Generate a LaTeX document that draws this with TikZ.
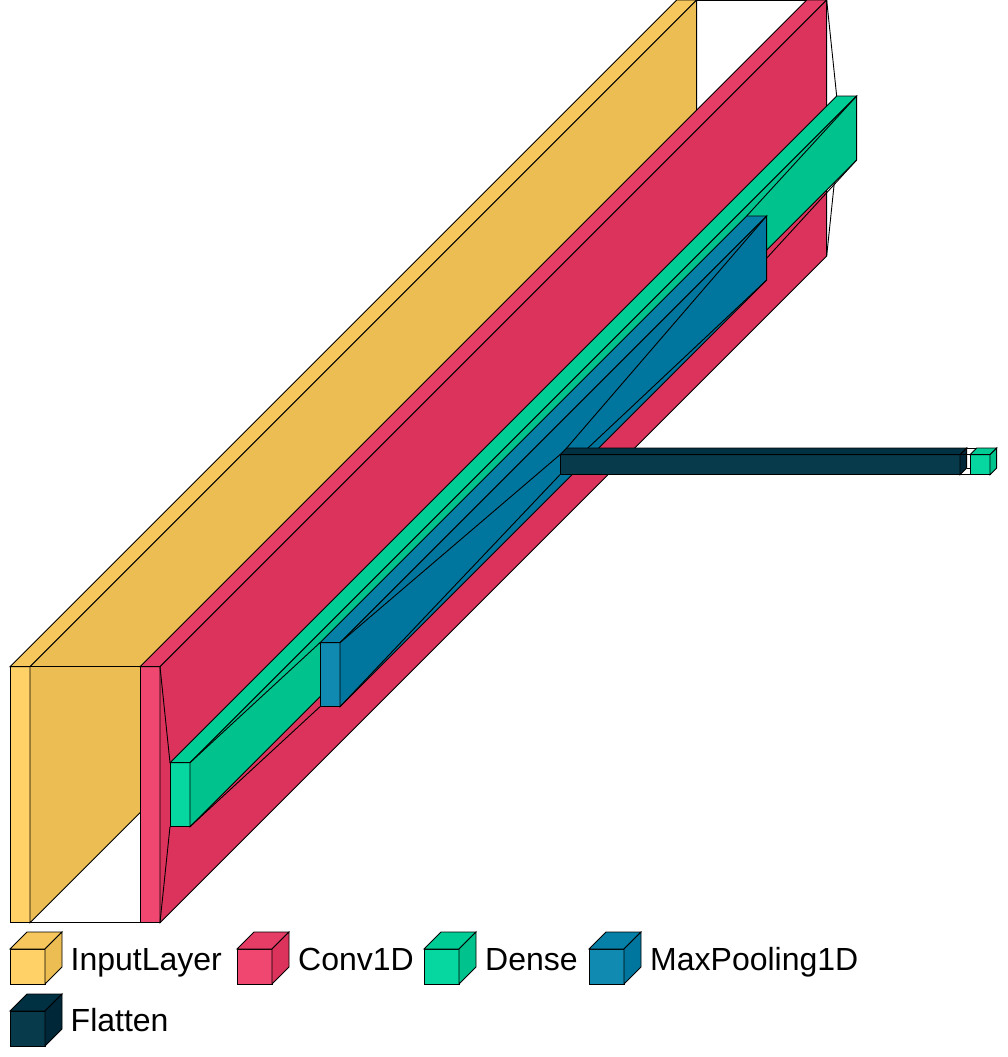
\documentclass[tikz,border=0pt]{standalone}
\usepackage{fontspec}
\setmainfont{Liberation Sans}
\usetikzlibrary{calc}
\definecolor{yF}{RGB}{255,209,102}\definecolor{yT}{RGB}{245,199,92}\definecolor{yS}{RGB}{235,189,82}
\definecolor{pF}{RGB}{239,71,111}\definecolor{pT}{RGB}{229,61,101}\definecolor{pS}{RGB}{219,51,91}
\definecolor{gF}{RGB}{6,214,160}\definecolor{gT}{RGB}{0,204,150}\definecolor{gS}{RGB}{0,194,140}
\definecolor{bF}{RGB}{17,138,178}\definecolor{bT}{RGB}{7,128,168}\definecolor{bS}{RGB}{0,118,158}
\definecolor{dF}{RGB}{7,59,76}\definecolor{dT}{RGB}{0,49,66}\definecolor{dS}{RGB}{0,39,56}
\tikzset{
  edge/.style={draw=black,line width=0.9pt,line join=miter},
  funnel/.style={draw=black,line width=0.9pt},
  legendtext/.style={anchor=base west,inner sep=0pt,font=\fontsize{32}{38}\selectfont}
}
% name, x1, y1, x2, y2, de
\newcommand{\vkcoords}[6]{%
  \coordinate (#1-ftl) at (#2,#3);
  \coordinate (#1-ftr) at (#4,#3);
  \coordinate (#1-fbr) at (#4,#5);
  \coordinate (#1-fbl) at (#2,#5);
  \coordinate (#1-btl) at ({#2+#6},{#3-#6});
  \coordinate (#1-btr) at ({#4+#6},{#3-#6});
  \coordinate (#1-bbr) at ({#4+#6},{#5-#6});
  \coordinate (#1-bbl) at ({#2+#6},{#5-#6});
}
% name, color prefix
\newcommand{\vkdraw}[2]{%
  \path[edge,fill=#2F] (#1-ftl) rectangle (#1-fbr);
  \path[edge,fill=#2T] (#1-ftl) -- (#1-btl) -- (#1-btr) -- (#1-ftr) -- cycle;
  \path[edge,fill=#2S] (#1-btr) -- (#1-bbr) -- (#1-fbr) -- (#1-ftr) -- cycle;
}
\newcommand{\vkfunnel}[2]{%
  \draw[funnel] (#1-btr) -- (#2-btl);
  \draw[funnel] (#1-bbr) -- (#2-bbl);
  \draw[funnel] (#1-fbr) -- (#2-fbl);
  \draw[funnel] (#1-ftr) -- (#2-ftl);
}
\begin{document}
\begin{tikzpicture}[x=1pt,y=-1pt]
\useasboundingbox (0,0) rectangle (1007,1057);
% layers
\vkcoords{inp}{10}{666.67}{30}{922.67}{666.67}
\vkcoords{conv}{140}{666.67}{160}{922.67}{666.67}
\vkcoords{dA}{170}{762.67}{190}{826.67}{666.67}
\vkcoords{mp}{320}{642.67}{340}{706.67}{426.67}
\vkcoords{fl}{560}{454.67}{960}{474.67}{6.67}
\vkcoords{dB}{970}{454.67}{990}{474.67}{6.67}
\vkdraw{inp}{y}
\vkfunnel{inp}{conv}
\vkdraw{conv}{p}
\vkfunnel{conv}{dA}
\vkdraw{dA}{g}
\vkfunnel{dA}{mp}
\vkdraw{mp}{b}
\vkfunnel{mp}{fl}
\vkdraw{fl}{d}
\vkfunnel{fl}{dB}
\vkdraw{dB}{g}
% legend
\vkcoords{lgI}{10}{949}{45}{984}{17}
\vkcoords{lgC}{237}{949}{272}{984}{17}
\vkcoords{lgD}{424}{949}{459}{984}{17}
\vkcoords{lgM}{589}{949}{624}{984}{17}
\vkcoords{lgF}{10}{1011}{45}{1046}{17}
\vkdraw{lgI}{y}
\vkdraw{lgC}{p}
\vkdraw{lgD}{g}
\vkdraw{lgM}{b}
\vkdraw{lgF}{d}
\node[legendtext] (tI) at (70.5,970) {InputLayer};
\node[legendtext] (tC) at (298,970) {Conv1D};
\node[legendtext] (tD) at (485,970) {Dense};
\node[legendtext] (tM) at (650,970) {MaxPooling1D};
\node[legendtext] (tF) at (70.5,1031) {Flatten};
\end{tikzpicture}
\end{document}
